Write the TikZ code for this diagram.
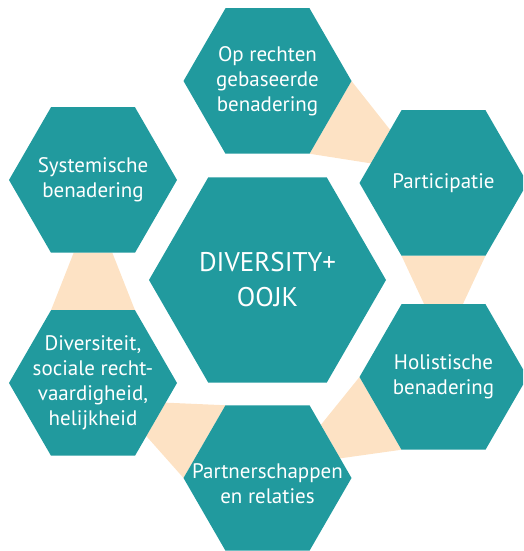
\documentclass[tikz,border=0pt]{standalone}
\usepackage{fontspec}
\setmainfont{PT Sans}
\usetikzlibrary{shapes.geometric, positioning, calc, backgrounds}
\definecolor{hexteal}{RGB}{33,154,158}
\definecolor{bandpeach}{RGB}{253,226,196}
\tikzset{hexa/.style={regular polygon, regular polygon sides=6, minimum size=168pt, inner sep=0pt, outer sep=0pt, fill=hexteal},
hextext/.style={text=white, align=center, font=\fontsize{21}{25}\selectfont},
band/.style={fill=bandpeach}}

\begin{document}
\begin{tikzpicture}[x=1pt, y=1pt, on grid]
\useasboundingbox (0,0) rectangle (523,551);
\clip (0,0) rectangle (523,551);
\node[hexa, minimum size=237pt, label={[hextext, font=\fontsize{27}{35}\selectfont]center:{DIVERSITY+\\OOJK}}] (core) at (267.5,271) {};
\node[hexa, above=199pt of core, label={[hextext]center:{Op rechten\\gebaseerde\\benadering}}] (rechten) {};
\node[hexa, above right=97pt and 176pt of core, label={[hextext]center:{Participatie}}] (particip) {};
\node[hexa, below right=97pt and 176pt of core, label={[hextext]center:{Holistische\\benadering}}] (holist) {};
\node[hexa, below=198pt of core, label={[hextext, yshift=-6pt]center:{Partnerschappen\\en relaties}}] (partner) {};
\node[hexa, below left=103pt and 174.5pt of core, label={[hextext]center:{Diversiteit,\\sociale recht-\\vaardigheid,\\helijkheid}}] (divers) {};
\node[hexa, above left=100pt and 174.5pt of core, label={[hextext]center:{Systemische\\benadering}}] (system) {};
\begin{scope}[on background layer]
\fill[band] (rechten.0) -- ($(particip.120)!0.27!(particip.180)$) -- ($(particip.120)!0.73!(particip.180)$) -- (rechten.-60) -- cycle;
\fill[band] (particip.-120) -- ($(holist.120)!0.27!(holist.60)$) -- ($(holist.120)!0.73!(holist.60)$) -- (particip.-60) -- cycle;
\fill[band] (holist.180) -- ($(partner.60)!0.27!(partner.0)$) -- ($(partner.60)!0.73!(partner.0)$) -- (holist.-120) -- cycle;
\fill[band] (partner.120) -- ($(divers.0)!0.27!(divers.-60)$) -- ($(divers.0)!0.73!(divers.-60)$) -- (partner.180) -- cycle;
\fill[band] (divers.120) -- ($(system.-120)!0.27!(system.-60)$) -- ($(system.-120)!0.73!(system.-60)$) -- (divers.60) -- cycle;
\end{scope}
\end{tikzpicture}
\end{document}
